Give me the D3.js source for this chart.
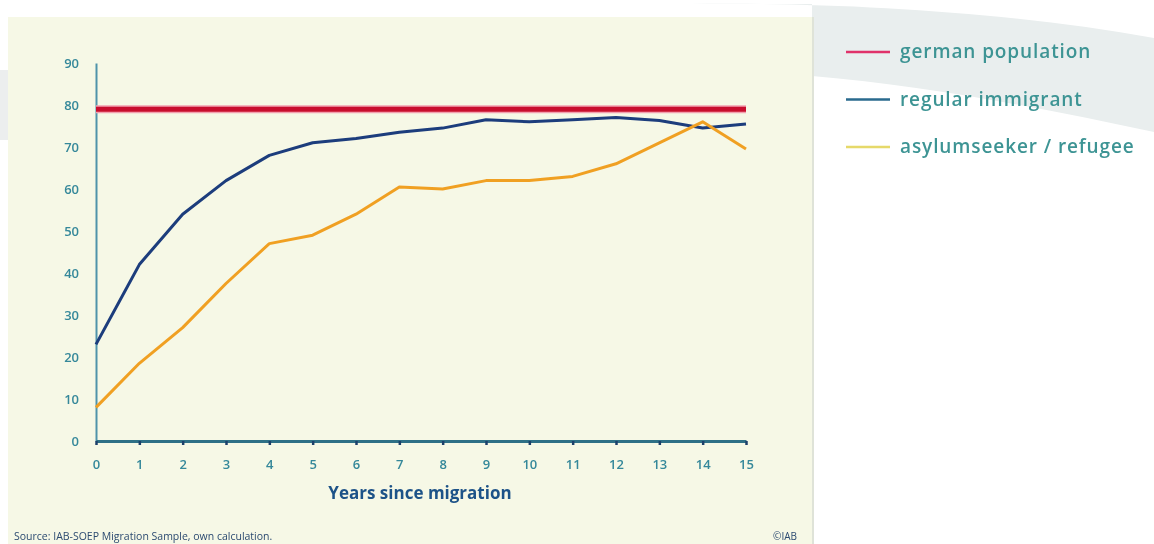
<!DOCTYPE html>
<html>
<head>
<meta charset="utf-8">
<script src="https://cdn.jsdelivr.net/npm/d3@7"></script>
<style>
  html, body { margin: 0; padding: 0; background: #ffffff; }
  svg { display: block; }
  text { font-family: "Open Sans", "DejaVu Sans", sans-serif; }
</style>
</head>
<body>
<svg id="chart" width="1154" height="544"></svg>
<script>
// Years since migration
const years = d3.range(0, 16);
// Employment rate (%) by group
const germanPopulation = 79;
const regularImmigrant = [23, 42, 54, 62, 68, 71, 72, 73.5, 74.5, 76.5, 76, 76.5, 77, 76.3, 74.5, 75.5];
const refugee = [8, 18.5, 27, 37.5, 47, 49, 54, 60.5, 60, 62, 62, 63, 66, 71, 76, 69.5];
const yTicks = [0, 10, 20, 30, 40, 50, 60, 70, 80, 90];
const seriesNames = ["german population", "regular immigrant", "asylumseeker / refugee"];
const xTitle = "Years since migration";
const sourceNote = "Source: IAB-SOEP Migration Sample, own calculation.";
const credit = "©IAB";

const svg = d3.select("#chart");

const defs = svg.append("defs");
defs.append("filter").attr("id", "soft")
  .attr("x", 0).attr("y", 0).attr("width", 1154).attr("height", 544)
  .attr("filterUnits", "userSpaceOnUse")
  .append("feGaussianBlur").attr("stdDeviation", 0.75);

const root = svg.append("g").attr("filter", "url(#soft)");

// pale swoosh behind the legend area
root.append("path")
  .attr("d", "M690,4 C820,2 1000,10 1154,38 L1154,132 C1040,108 930,86 812,76 L812,4 Z")
  .attr("fill", "#e9eeee");
root.append("rect").attr("x", 0).attr("y", 70).attr("width", 8).attr("height", 70).attr("fill", "#eceeee");

// cream chart panel
root.append("rect")
  .attr("x", 8).attr("y", 17).attr("width", 805).attr("height", 527)
  .attr("fill", "#f6f8e6");
root.append("line")
  .attr("x1", 813).attr("x2", 813).attr("y1", 17).attr("y2", 544)
  .attr("stroke", "#dfe3d8").attr("stroke-width", 2);

const x = d3.scaleLinear().domain([0, 15]).range([96, 746]);
const y = d3.scaleLinear().domain([0, 90]).range([441, 63]);

// y axis
const yAxis = root.append("g")
  .attr("transform", `translate(${x(0)},0)`)
  .call(d3.axisLeft(y).tickValues(yTicks).tickSize(0).tickPadding(17));
yAxis.select(".domain").attr("stroke", "#4f93aa").attr("stroke-width", 2);
yAxis.selectAll("text")
  .attr("fill", "#35889a").attr("font-size", 13).attr("font-weight", 600)
  .attr("font-family", "Open Sans, sans-serif");

// x axis
const xAxis = root.append("g")
  .attr("transform", `translate(0,${y(0)})`)
  .call(d3.axisBottom(x).tickValues(years).tickSize(4).tickPadding(15).tickSizeOuter(0));
xAxis.select(".domain").attr("stroke", "#2f6f86").attr("stroke-width", 3);
xAxis.selectAll(".tick line").attr("stroke", "#1f3f6a").attr("stroke-width", 2.5);
xAxis.selectAll("text")
  .attr("fill", "#35889a").attr("font-size", 13).attr("font-weight", 600)
  .attr("font-family", "Open Sans, sans-serif");

root.append("text")
  .attr("x", 420).attr("y", 499)
  .attr("text-anchor", "middle")
  .attr("font-size", 17).attr("font-weight", "bold")
  .attr("fill", "#1f5388")
  .text(xTitle);

// data lines
const line = d3.line().x((d, i) => x(years[i])).y(d => y(d));

root.append("line")
  .attr("x1", x(0)).attr("x2", x(15))
  .attr("y1", y(germanPopulation)).attr("y2", y(germanPopulation))
  .attr("stroke", "#f2a0b0").attr("stroke-width", 8);
root.append("line")
  .attr("x1", x(0)).attr("x2", x(15))
  .attr("y1", y(germanPopulation)).attr("y2", y(germanPopulation))
  .attr("stroke", "#c8102e").attr("stroke-width", 5);

root.append("path").datum(regularImmigrant)
  .attr("d", line).attr("fill", "none")
  .attr("stroke", "#1c3c7c").attr("stroke-width", 3).attr("stroke-linejoin", "round");

root.append("path").datum(refugee)
  .attr("d", line).attr("fill", "none")
  .attr("stroke", "#f0a023").attr("stroke-width", 3).attr("stroke-linejoin", "round");

// legend
const legendColors = ["#e0336b", "#2a6a8e", "#e6d96a"];
const legend = root.append("g");
seriesNames.forEach((name, i) => {
  const ly = 52 + i * 47.5;
  legend.append("line")
    .attr("x1", 846).attr("x2", 890).attr("y1", ly).attr("y2", ly)
    .attr("stroke", legendColors[i]).attr("stroke-width", 2.5);
  legend.append("text")
    .attr("x", 900).attr("y", ly).attr("dy", "0.32em")
    .attr("font-size", 19).attr("letter-spacing", 0.9).attr("font-weight", 600)
    .attr("fill", "#3d9494")
    .text(name);
});

// footnotes
root.append("text")
  .attr("x", 14).attr("y", 540)
  .attr("font-size", 10.5).attr("fill", "#2b4a70")
  .text(sourceNote);
root.append("text")
  .attr("x", 797).attr("y", 540).attr("text-anchor", "end")
  .attr("font-size", 10).attr("fill", "#2b4a70")
  .text(credit);
</script>
</body>
</html>
